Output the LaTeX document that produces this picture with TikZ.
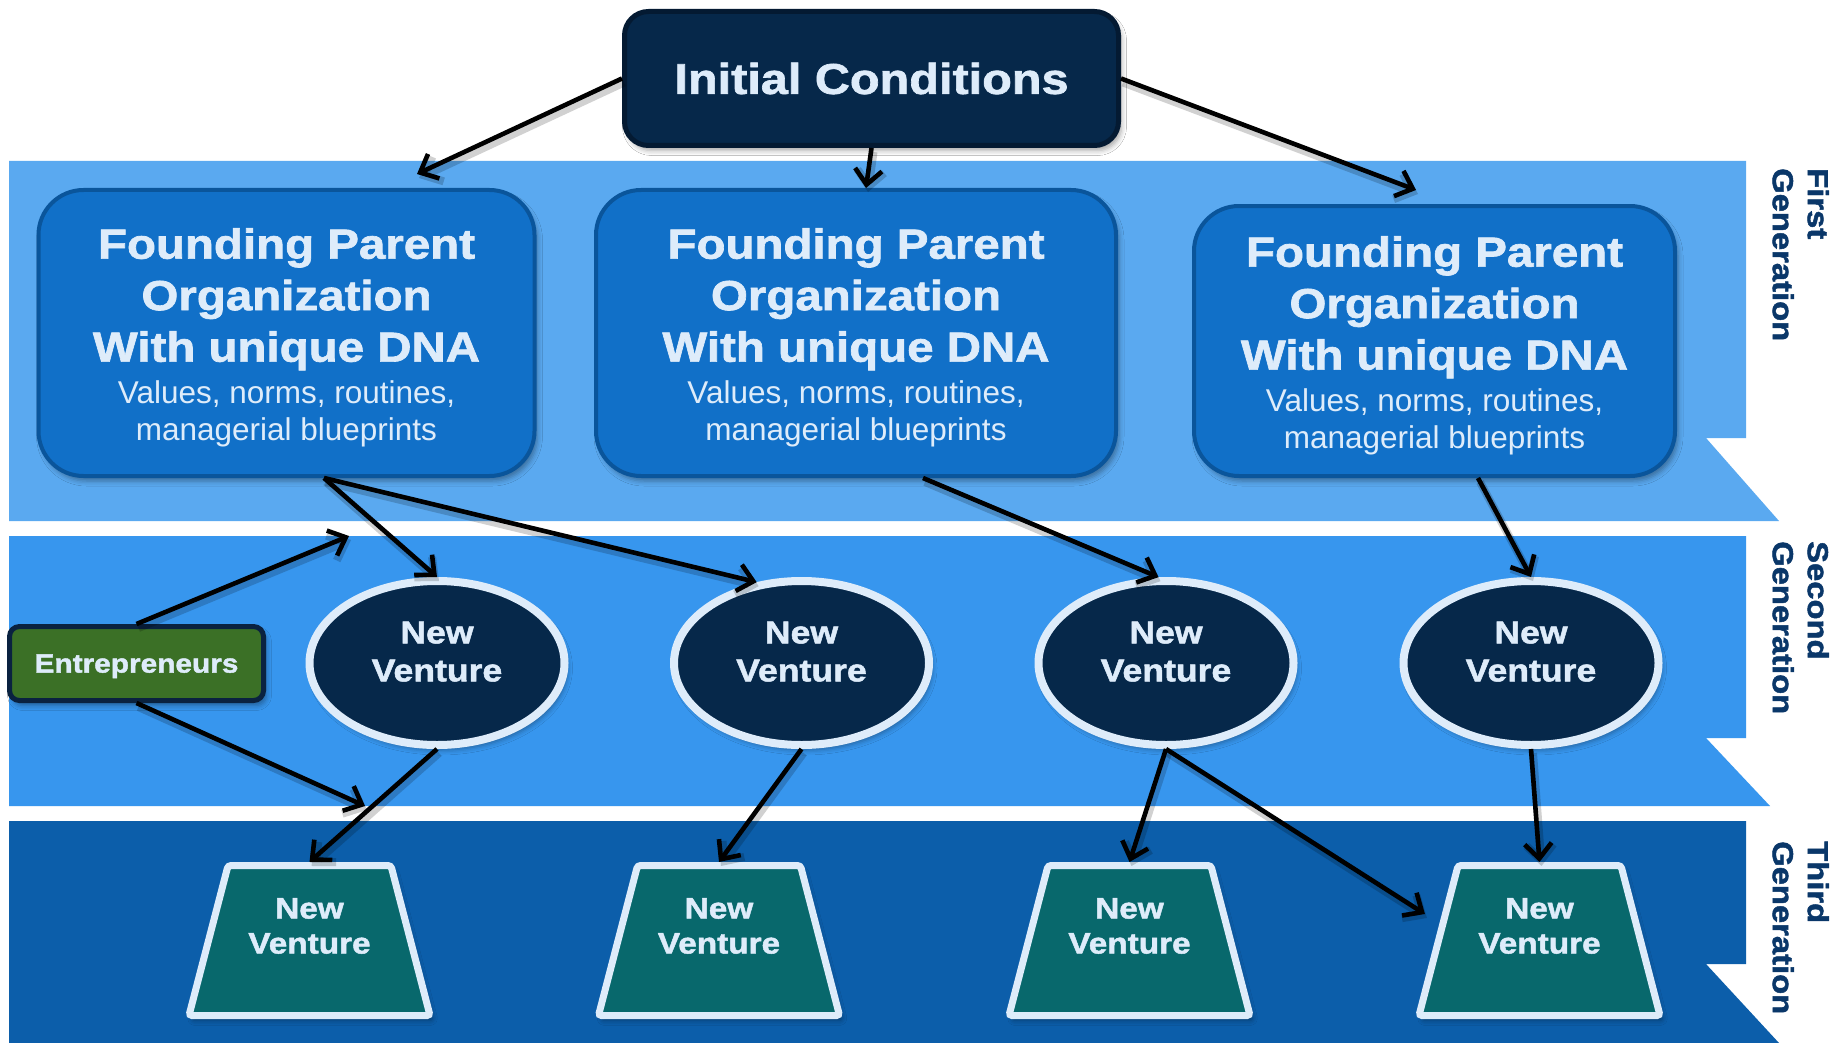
\documentclass[tikz,border=0pt]{standalone}
\usepackage{fontspec}
\setmainfont{Liberation Sans}
\newfontfamily\headfont[FakeStretch=1.13,FakeBold=1.6]{Liberation Sans Bold}
\usetikzlibrary{arrows.meta,shapes.geometric,shadows.blur}

\definecolor{bandone}{RGB}{90,169,240}
\definecolor{bandtwo}{RGB}{55,150,238}
\definecolor{bandthree}{RGB}{12,94,170}
\definecolor{parentfill}{RGB}{17,112,200}
\definecolor{parentline}{RGB}{10,85,155}
\definecolor{navyfill}{RGB}{6,40,74}
\definecolor{navyline}{RGB}{4,26,50}
\definecolor{paletext}{RGB}{222,236,250}
\definecolor{tealfill}{RGB}{8,104,108}
\definecolor{greenfill}{RGB}{59,112,38}
\definecolor{greenline}{RGB}{10,34,64}
\definecolor{gentext}{RGB}{10,55,105}

\begin{document}
\begin{tikzpicture}[x=1pt,y=-1pt,
  softshadow/.style={blur shadow={shadow xshift=3pt,shadow yshift=-5pt,shadow blur radius=5pt,shadow opacity=35}},
  startbox/.style={draw=navyline,line width=5pt,fill=navyfill,rounded corners=24pt,
    minimum width=494pt,minimum height=134pt,inner sep=0pt,text=paletext,
    font=\headfont\fontsize{43}{50}\selectfont,softshadow},
  parentbox/.style={draw=parentline,line width=4pt,fill=parentfill,rounded corners=45pt,
    inner sep=0pt,softshadow},
  parenttitle/.style={inner sep=0pt,anchor=north,align=center,text=paletext,
    font=\headfont\fontsize{42}{51.5}\selectfont},
  parentnote/.style={inner sep=0pt,anchor=north,align=center,text=paletext,
    font=\fontsize{31.5}{37}\selectfont},
  venture/.style={ellipse,draw=paletext,line width=8pt,fill=navyfill,
    minimum width=255pt,minimum height=164pt,inner sep=0pt,softshadow},
  venturetext/.style={inner sep=0pt,anchor=north,align=center,text=paletext,
    font=\headfont\fontsize{31.5}{38}\selectfont},
  offspring/.style={trapezium,trapezium left angle=76.5,trapezium right angle=76.5,
    trapezium stretches=true,draw=paletext,line width=7pt,fill=tealfill,
    minimum width=241pt,minimum height=150pt,inner sep=1pt,rounded corners=3pt,softshadow},
  offspringtext/.style={inner sep=0pt,anchor=north,align=center,text=paletext,
    font=\headfont\fontsize{29.5}{35}\selectfont},
  founderbox/.style={draw=greenline,line width=5pt,fill=greenfill,rounded corners=10pt,
    minimum width=254pt,minimum height=74pt,inner sep=0pt,text=paletext,text depth=0pt,
    font=\headfont\fontsize{26.4}{30}\selectfont,softshadow},
  genlabel/.style={rotate=-90,anchor=north west,inner sep=0pt,align=left,text=gentext,
    font=\headfont\fontsize{29}{35}\selectfont},
  link/.style={line width=4.6pt,-{Straight Barb[length=15pt,width=27pt]},
    preaction={draw=black,opacity=0.18,line width=8pt,transform canvas={xshift=2pt,yshift=-4pt}}}
]
\useasboundingbox (0,0) rectangle (1835,1043);
\fill[white] (0,0) rectangle (1835,1043);

% generation bands with notched right ends
\fill[bandone] (9,161) -- (1746,161) -- (1746,438) -- (1706,438) -- (1779,521) -- (9,521) -- cycle;
\fill[bandtwo] (9,536) -- (1746,536) -- (1746,738) -- (1706,738) -- (1770,806) -- (9,806) -- cycle;
\fill[bandthree] (9,821) -- (1746,821) -- (1746,964) -- (1706,964) -- (1779,1043) -- (9,1043) -- cycle;

% generation labels
\node[genlabel] (g1) at (1829,168) {First\\Generation};
\node[genlabel] (g2) at (1829,541) {Second\\Generation};
\node[genlabel] (g3) at (1829,841) {Third\\Generation};

% starting point
\node[startbox] (ic) at (871.5,78.5) {Initial Conditions};

% first generation: founding parents
\node[parentbox,minimum width=496pt,minimum height=286pt] (p1) at (286.5,333) {};
\node[parenttitle] (p1t) at (286.5,228) {Founding Parent\\Organization\\With unique DNA};
\node[parentnote] (p1n) at (286.5,380.5) {Values, norms, routines,\\managerial blueprints};

\node[parentbox,minimum width=520pt,minimum height=286pt] (p2) at (856,333) {};
\node[parenttitle] (p2t) at (856,228) {Founding Parent\\Organization\\With unique DNA};
\node[parentnote] (p2n) at (856,380.5) {Values, norms, routines,\\managerial blueprints};

\node[parentbox,minimum width=481pt,minimum height=270pt] (p3) at (1434.5,341) {};
\node[parenttitle] (p3t) at (1434.5,236) {Founding Parent\\Organization\\With unique DNA};
\node[parentnote] (p3n) at (1434.5,388.5) {Values, norms, routines,\\managerial blueprints};

% second generation
\node[founderbox] (en) at (136.5,663.5) {Entrepreneurs};
\node[venture] (e1) at (437,663) {};
\node[venture] (e2) at (801.5,663) {};
\node[venture] (e3) at (1166,663) {};
\node[venture] (e4) at (1531,663) {};
\node[venturetext] (e1t) at (437,621.5) {New\\Venture};
\node[venturetext] (e2t) at (801.5,621.5) {New\\Venture};
\node[venturetext] (e3t) at (1166,621.5) {New\\Venture};
\node[venturetext] (e4t) at (1531,621.5) {New\\Venture};

% third generation
\node[offspring] (t1) at (309.5,940.5) {};
\node[offspring] (t2) at (719,940.5) {};
\node[offspring] (t3) at (1129.5,940.5) {};
\node[offspring] (t4) at (1539.5,940.5) {};
\node[offspringtext] (t1t) at (309.5,898) {New\\Venture};
\node[offspringtext] (t2t) at (719,898) {New\\Venture};
\node[offspringtext] (t3t) at (1129.5,898) {New\\Venture};
\node[offspringtext] (t4t) at (1539.5,898) {New\\Venture};

% free ends of the entrepreneur arrows
\coordinate (entA) at (349,536);
\coordinate (entB) at (365,806);

% connectors
\draw[link] (ic.west) -- ([xshift=130.5pt,yshift=14pt]p1.north);
\draw[link] (ic.south) -- ([xshift=10pt]p2.north);
\draw[link] (ic.east) -- ([xshift=-18.5pt,yshift=14pt]p3.north);

\draw[link] ([xshift=37.5pt]p1.south) -- (e1.north);
\draw[link] ([xshift=37.5pt]p1.south) -- (e2.119);
\draw[link] ([xshift=67pt]p2.south) -- (e3.95);
\draw[link] ([xshift=43.5pt]p3.south) -- (e4.north);

\draw[link] (en.north) -- (entA);
\draw[link] (en.south) -- (entB);

\draw[link] (e1.south) -- (t1.north);
\draw[link] (e2.south) -- (t2.north);
\draw[link] (e3.south) -- (t3.north);
\draw[link] (e3.south) -- ([xshift=-10pt,yshift=26.5pt]t4.west);
\draw[link] (e4.south) -- (t4.north);
\end{tikzpicture}
\end{document}
